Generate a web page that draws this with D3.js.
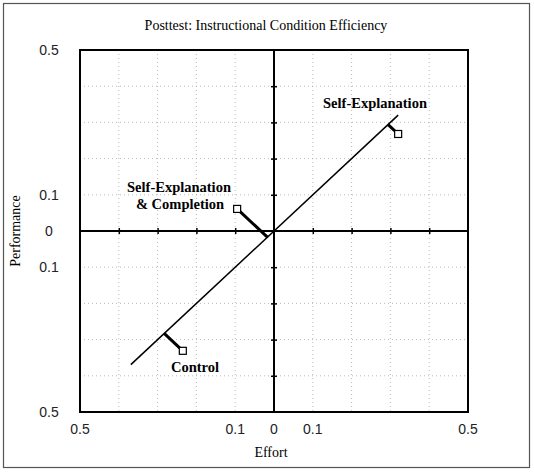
<!DOCTYPE html>
<html><head><meta charset="utf-8">
<script src="https://cdn.jsdelivr.net/npm/d3@7"></script>
<style>body{margin:0;background:#fff}</style>
</head><body>
<svg id="c" width="534" height="473"></svg>
<script>
const conditions = ["Self-Explanation", "Self-Explanation & Completion", "Control"];
const effort = [0.32, -0.095, -0.235];
const performance = [0.268, 0.061, -0.331];
const tickValues = [-0.5, -0.1, 0, 0.1, 0.5];
const tickLabels = ["0.5", "0.1", "0", "0.1", "0.5"];
const minorTicks = [-0.4, -0.3, -0.2, -0.1, 0.1, 0.2, 0.3, 0.4];
const lineExtent = [-0.369, 0.32];

const svg = d3.select("#c");
const x = d3.scaleLinear().domain([-0.5, 0.5]).range([80, 468]);
const y = d3.scaleLinear().domain([-0.5, 0.5]).range([412, 50]);

svg.append("rect").attr("x", 3.5).attr("y", 3.5).attr("width", 526).attr("height", 464)
  .attr("fill", "none").attr("stroke", "#555").attr("stroke-width", 1.2);

// grid
const g = svg.append("g");
g.selectAll("line.gx").data(minorTicks).join("line")
  .attr("x1", d => x(d)).attr("x2", d => x(d)).attr("y1", y(0.5)).attr("y2", y(-0.5))
  .attr("stroke", "#aaa").attr("stroke-width", 0.8).attr("stroke-dasharray", "1,3");
g.selectAll("line.gy").data(minorTicks).join("line")
  .attr("y1", d => y(d)).attr("y2", d => y(d)).attr("x1", x(-0.5)).attr("x2", x(0.5))
  .attr("stroke", "#aaa").attr("stroke-width", 0.8).attr("stroke-dasharray", "1,3");

// frame
svg.append("rect").attr("x", x(-0.5)).attr("y", y(0.5)).attr("width", x(0.5) - x(-0.5)).attr("height", y(-0.5) - y(0.5))
  .attr("fill", "none").attr("stroke", "#000").attr("stroke-width", 2);

// zero axes with ticks
const ax = svg.append("g").attr("transform", `translate(0,${y(0)})`)
  .call(d3.axisBottom(x).tickValues(minorTicks).tickFormat(""));
ax.selectAll(".tick line").attr("y1", -3).attr("y2", 3).attr("stroke-width", 1.5);
ax.select(".domain").attr("stroke-width", 2).attr("d", `M${x(-0.5)},0H${x(0.5)}`);
const ay = svg.append("g").attr("transform", `translate(${x(0)},0)`)
  .call(d3.axisLeft(y).tickValues(minorTicks).tickFormat(""));
ay.selectAll(".tick line").attr("x1", -3).attr("x2", 3).attr("stroke-width", 1.5);
ay.select(".domain").attr("stroke-width", 2).attr("d", `M0,${y(0.5)}V${y(-0.5)}`);

// tick labels
const lf = "'Liberation Sans', Arial, sans-serif";
svg.append("g").selectAll("text").data(tickValues).join("text")
  .attr("x", d => x(d)).attr("y", 434).attr("text-anchor", "middle")
  .attr("font-family", lf).attr("font-size", 14).attr("fill", "#222")
  .text((d, i) => tickLabels[i]);
svg.append("g").selectAll("text").data(tickValues).join("text")
  .attr("x", 49).attr("y", d => y(d) + 5).attr("text-anchor", "middle")
  .attr("font-family", lf).attr("font-size", 14).attr("fill", "#222")
  .text((d, i) => tickLabels[i]);

// diagonal E=0 line
svg.append("line").attr("x1", x(lineExtent[0])).attr("y1", y(lineExtent[0]))
  .attr("x2", x(lineExtent[1])).attr("y2", y(lineExtent[1]))
  .attr("stroke", "#000").attr("stroke-width", 1.5);

// perpendicular segments & points
const pts = conditions.map((c, i) => ({c, e: effort[i], p: performance[i], f: (effort[i] + performance[i]) / 2}));
svg.append("g").selectAll("line").data(pts).join("line")
  .attr("x1", d => x(d.f)).attr("y1", d => y(d.f)).attr("x2", d => x(d.e)).attr("y2", d => y(d.p))
  .attr("stroke", "#000").attr("stroke-width", 3);
svg.append("g").selectAll("rect").data(pts).join("rect")
  .attr("x", d => x(d.e) - 3.5).attr("y", d => y(d.p) - 3.5).attr("width", 7).attr("height", 7)
  .attr("fill", "#fff").attr("stroke", "#000").attr("stroke-width", 1.2);

// labels
const tf = "'Liberation Serif', 'Times New Roman', serif";
const lab = svg.append("g").attr("font-family", tf).attr("font-weight", "bold").attr("font-size", 14.5).attr("text-anchor", "middle");
lab.append("text").attr("x", 375).attr("y", 108).text("Self-Explanation");
lab.append("text").attr("x", 179).attr("y", 192).text("Self-Explanation");
lab.append("text").attr("x", 180).attr("y", 209).text("& Completion");
lab.append("text").attr("x", 195).attr("y", 372).text("Control");

svg.append("text").attr("x", 266).attr("y", 30).attr("text-anchor", "middle")
  .attr("font-family", tf).attr("font-size", 14).text("Posttest: Instructional Condition Efficiency");
svg.append("text").attr("x", 271).attr("y", 457).attr("text-anchor", "middle")
  .attr("font-family", tf).attr("font-size", 14).text("Effort");
svg.append("text").attr("transform", "translate(20,231) rotate(-90)").attr("text-anchor", "middle")
  .attr("font-family", tf).attr("font-size", 14).text("Performance");
</script>
</body></html>
